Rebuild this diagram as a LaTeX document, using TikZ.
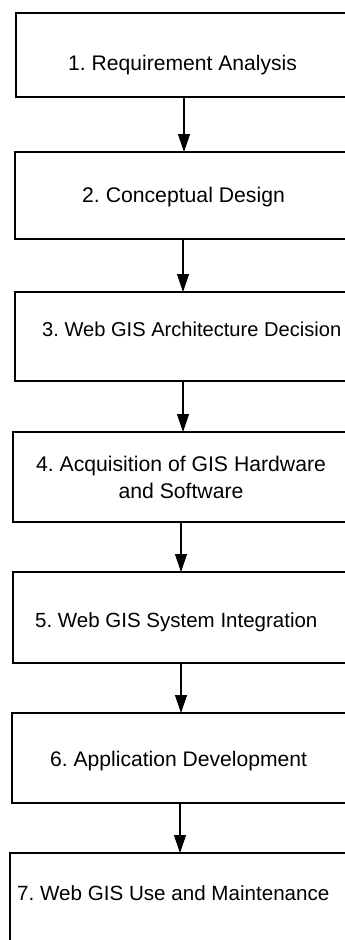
\documentclass[tikz,border=0pt]{standalone}
\usepackage{fontspec}
\setmainfont{Liberation Sans}
\usetikzlibrary{arrows.meta}

\begin{document}
\frenchspacing
\begin{tikzpicture}[x=1pt, y=-1pt,
  stagebox/.style={draw=black, line width=1.2pt, inner sep=0pt, outer sep=0pt,
    minimum width=336pt},
  stagetext/.style={inner sep=0pt, text=black, font=\fontsize{#1}{27}\selectfont},
  stagetext/.default=21,
  flow/.style={draw=black, line width=1.1pt,
    -{Triangle[length=18pt, width=12pt]}}]

  \useasboundingbox (0,0) rectangle (345,940);
  \clip (0,0) rectangle (345,940);
  \fill[white] (0,0) rectangle (345,940);

  % stage frames
  \node[stagebox, minimum height=84pt]  (b1) at (184,55)    {};
  \node[stagebox, minimum height=87pt]  (b2) at (183,195.5) {};
  \node[stagebox, minimum height=89pt]  (b3) at (183,336.5) {};
  \node[stagebox, minimum height=90pt, align=center, stagetext=21.2, draw=black, line width=1.2pt]
    (b4) at (181,477) {4. Acquisition of GIS Hardware\\and Software};
  \node[stagebox, minimum height=91pt]  (b5) at (181,617.5) {};
  \node[stagebox, minimum height=90pt]  (b6) at (180,758)   {};
  \node[stagebox, minimum height=107pt] (b7) at (178,906.5) {};

  % stage titles
  \node[stagetext=21.1, anchor=base west] (t1) at (68,70)    {1. Requirement Analysis};
  \node[stagetext=21.2, anchor=base west] (t2) at (82,202.7) {2. Conceptual Design};
  \node[stagetext=20.1, anchor=base west] (t3) at (42,336)   {3. Web GIS Architecture Decision};
  \node[stagetext=20.5, anchor=base west] (t5) at (35,627.3) {5. Web GIS System Integration};
  \node[stagetext=21.1, anchor=base west] (t6) at (50,766.7) {6. Application Development};
  \node[stagetext=20.6, anchor=base west] (t7) at (17,900)   {7. Web GIS Use and Maintenance};

  % sequence arrows
  \draw[flow] (b1.south) -- (b1.south |- b2.north);
  \draw[flow] (b2.south) -- (b2.south |- b3.north);
  \draw[flow] (b3.south) -- (b3.south |- b4.north);
  \draw[flow] (b4.south) -- (b4.south |- b5.north);
  \draw[flow] (b5.south) -- (b5.south |- b6.north);
  \draw[flow] (b6.south) -- (b6.south |- b7.north);
\end{tikzpicture}
\end{document}
